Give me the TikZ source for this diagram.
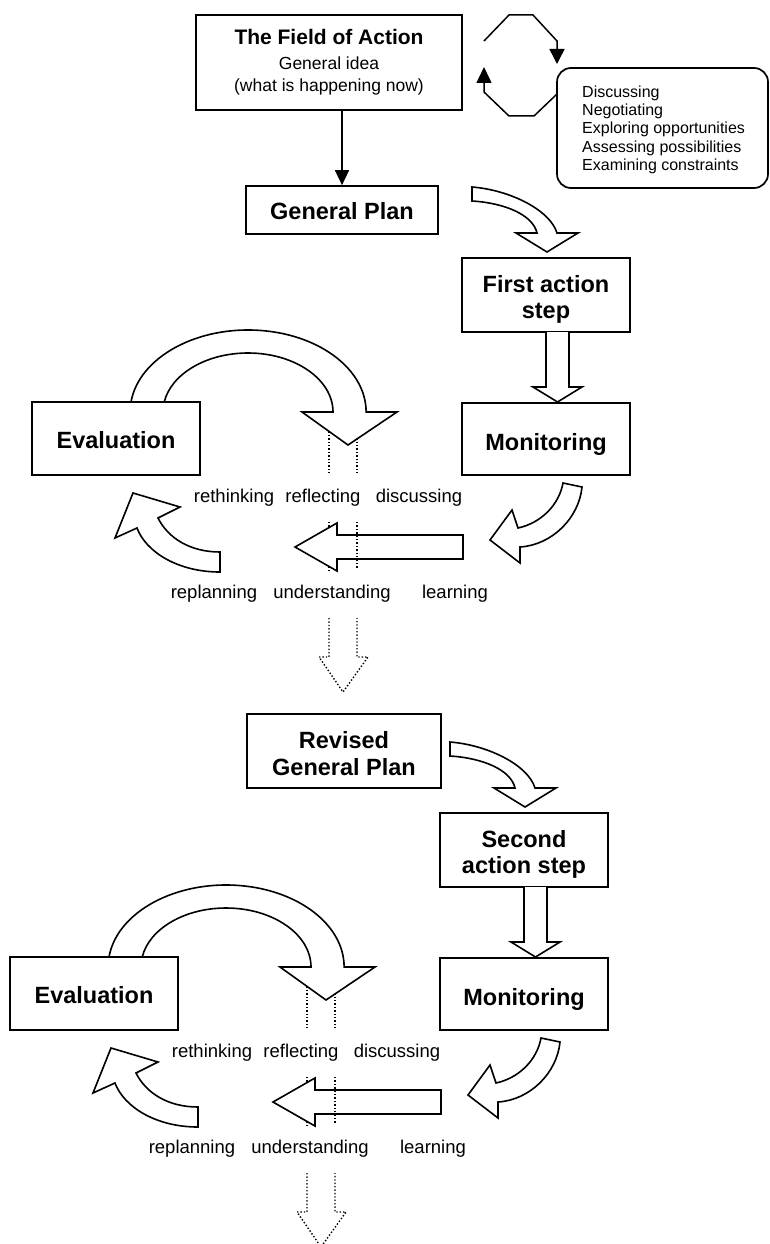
\documentclass[tikz,border=0pt]{standalone}
\usepackage{fontspec}
\setmainfont{Liberation Sans}
\usetikzlibrary{arrows.meta}
\newcommand{\actloop}[4]{%
\begin{scope}[shift={#1}]
 % curved block arrow plan -> step
 \draw[blk] (472,187) .. controls (510,190) and (550,210) .. (557,233) -- (578,233) -- (547,252) -- (516,233) -- (537,233) .. controls (533,215) and (505,203) .. (472,201) -- cycle;
 % action step box
 \node[box, minimum width=168pt, minimum height=74pt] (#2step) at (546,295) {};
 \node[ttl, anchor=base] (#2stepa) at (546,292) {#3};
 \node[ttl, anchor=base] (#2stepb) at (546,318) {#4};
 % straight block arrow step -> monitoring
 \draw[blk] (546,332) -- (546,387) -- (533,387) -- (557.5,402) -- (582,387) -- (569,387) -- (569,332);
 % monitoring
 \node[box, ttl, minimum width=168pt, text height=47pt, text depth=25pt, anchor=base] (#2mon) at (546,450) {Monitoring};
 % curved arrow from monitoring
 \draw[blk] (563,483) -- (582,487) .. controls (579,518) and (552,545) .. (520,547) -- (520,563) -- (490,540) -- (512,510) -- (518,528) .. controls (541,523) and (559,505) .. (563,483) -- cycle;
 % dotted guide lines
 \draw[dot] (329,428) -- (329,473);
 \draw[dot] (357,428) -- (357,473);
 \draw[dot] (329,522) -- (329,570);
 % horizontal block arrow
 \draw[blk] (463,535) -- (337,535) -- (337,523) -- (295,547) -- (337,571) -- (337,559) -- (463,559) -- cycle;
 \draw[dot] (357,522) -- (357,569);
 % big arc arrow from evaluation
 \draw[blk] (131,402) arc[start angle=187, end angle=360, x radius=118, y radius=82] -- (397,412) -- (348,445) -- (302,412) -- (333,412) arc[start angle=360, end angle=189.8, x radius=85, y radius=59] -- cycle;
 % evaluation
 \node[box, ttl, minimum width=168pt, text height=46pt, text depth=27pt, anchor=base] (#2eval) at (116,448) {Evaluation};
 % small curved arrow towards evaluation
 \draw[blk] (220,552) -- (220,572) .. controls (178,572) and (146,552) .. (137,528) -- (115,538) -- (133,493) -- (180,507) -- (158,518) .. controls (168,538) and (190,552) .. (220,552) -- cycle;
 % labels
 \node[lbl] (#2la) at (234,502) {rethinking};
 \node[lbl] (#2lb) at (323,502) {reflecting};
 \node[lbl] (#2lc) at (419,502) {discussing};
 \node[lbl] (#2ld) at (214,598) {replanning};
 \node[lbl] (#2le) at (332,598) {understanding};
 \node[lbl] (#2lf) at (455,598) {learning};
 % dotted block arrow
 \draw[dot, line join=miter] (329,618) -- (329,657) -- (319,657) -- (343,692) -- (368,657) -- (357,657) -- (357,618);
\end{scope}}
\begin{document}
\begin{tikzpicture}[x=1pt,y=-1pt,
  box/.style={draw,line width=1.7pt,fill=white,inner sep=0pt},
  blk/.style={draw,line width=1.6pt,fill=white,line join=miter},
  ttl/.style={font=\fontsize{23.5}{27}\selectfont\bfseries},
  lbl/.style={font=\fontsize{18.5}{21}\selectfont, anchor=base, inner sep=0pt},
  dot/.style={dotted,line width=1.4pt},
  ln/.style={line width=1.5pt,line join=miter}]
\useasboundingbox (0,0) rectangle (770,1244);
\fill[white] (0,0) rectangle (770,1244);

% field of action
\node[box, minimum width=266pt, minimum height=95pt] (field) at (329,62.5) {};
\node[anchor=base, font=\fontsize{21}{24}\selectfont\bfseries] (fielda) at (329,45) {The Field of Action};
\node[anchor=base, font=\fontsize{17.5}{20}\selectfont] (fieldb) at (329,70) {General idea};
\node[anchor=base, font=\fontsize{17.5}{20}\selectfont] (fieldc) at (329,92) {(what is happening now)};

% general plan
\node[box, ttl, minimum width=192pt, text height=33pt, text depth=15pt, anchor=base] (plan) at (342,219) {General Plan};
\draw[ln, -{Triangle[length=15pt,width=14pt]}] (plan.north |- field.south) -- (plan.north);

% discussion box and loop
\node[box, rounded corners=14pt, minimum width=211pt, minimum height=120pt] (talk) at (662.5,128) {};
\node[anchor=north west, align=left, inner sep=0pt, font=\fontsize{16}{18.3}\selectfont] (talktext) at (582,85.5) {Discussing\\Negotiating\\Exploring opportunities\\Assessing possibilities\\Examining constraints};
\draw[ln, -{Triangle[length=15pt,width=15pt]}] (484,41) -- (509,15) -- (533,15) -- (557,41) -- (557,64);
\draw[ln, -{Triangle[length=16pt,width=15pt]}] (557,94) -- (534,116) -- (509,116) -- (484,92) -- (484,67);

% first loop
\actloop{(0,0)}{a}{First action}{step}

% revised plan
\node[box, minimum width=194pt, minimum height=74pt] (rplan) at (344,751) {};
\node[ttl, anchor=base] (rplana) at (344,748) {Revised};
\node[ttl, anchor=base] (rplanb) at (344,775) {General Plan};

% second loop
\actloop{(-22,555)}{b}{Second}{action step}
\end{tikzpicture}
\end{document}
